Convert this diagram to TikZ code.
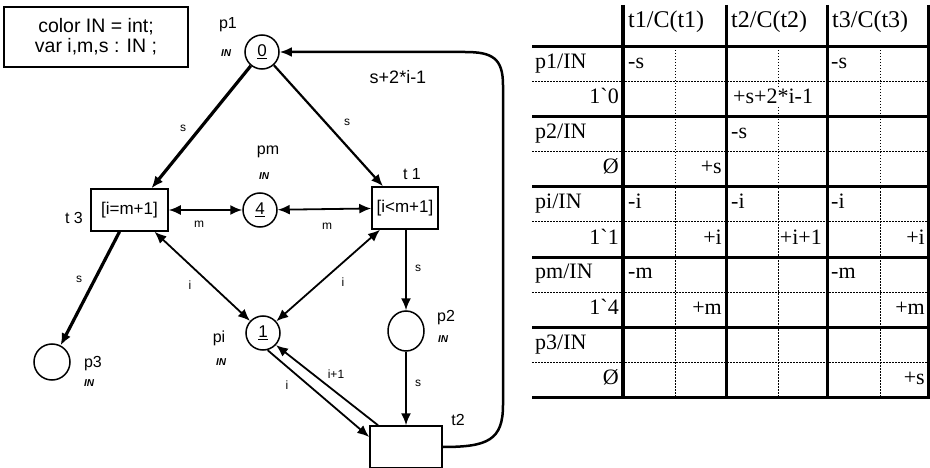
\documentclass[tikz,border=0pt]{standalone}
\usepackage{fontspec}
\setmainfont{Liberation Sans}
\newfontfamily\tabfont{Liberation Serif}[Ligatures=TeXOff]
\usetikzlibrary{arrows.meta,calc,shapes.geometric}
\begin{document}
\begin{tikzpicture}[x=1pt,y=-1pt,
  place/.style={circle,draw,line width=1.5pt,minimum size=34pt,inner sep=0pt,font=\fontsize{17}{17}\selectfont},
  trans/.style={rectangle,draw,line width=1.5pt,minimum height=42pt,inner sep=0pt,font=\fontsize{17}{17}\selectfont},
  tip/.style={-{Latex[length=12pt,width=10pt]}},
  arcln/.style={line width=1.8pt,tip},
  biarc/.style={line width=1.8pt,{Latex[length=12pt,width=10pt]}-{Latex[length=12pt,width=10pt]}},
  lbl/.style={font=\fontsize{16}{16}\selectfont,inner sep=0pt},
  alab/.style={font=\fontsize{12}{12}\selectfont,inner sep=0pt},
  tag/.style={font=\fontsize{10}{10}\selectfont\bfseries\itshape,inner sep=0pt},
  thickln/.style={line width=3pt},
  dotln/.style={line width=1pt,dash pattern=on 1.5pt off 1.5pt},
  tt/.style={font=\tabfont\fontsize{22}{22}\selectfont,inner sep=0pt},
  th/.style={font=\tabfont\fontsize{24}{24}\selectfont,inner sep=0pt,anchor=base west},
  tl/.style={tt,anchor=base west},
  tr/.style={tt,anchor=base east},
]
\useasboundingbox[fill=white] (0,0) rectangle (930,468);

% declarations
\node[draw,line width=1.2pt,minimum width=184pt,minimum height=60pt,align=center,
      font=\fontsize{19.5}{20}\selectfont] (decl) at (96,37) {color IN = int;\\var i,m,s : IN ;};

% places
\node[place] (p1) at (262,52) {\underline{0}};
\node[place] (pm) at (260,210) {\underline{4}};
\node[place] (pi) at (263,333) {\underline{1}};
\node[ellipse,draw,line width=1.5pt,minimum width=36pt,minimum height=40pt,inner sep=0pt] (p2) at (406,331) {};
\node[place,minimum size=36pt] (p3) at (52,362) {};

% transitions
\node[trans,minimum width=77pt] (t3) at (129.5,210) {[i=m+1]};
\node[trans,minimum width=66pt] (t1) at (405,208) {[i<m+1]};
\node[trans,minimum width=72pt] (t2) at (406,447) {};

% place / transition labels
\node[lbl] (lp1) at (228,25) {p1};
\node[tag] (tp1) at (226,53) {IN};
\node[lbl] (lpm) at (268,152) {pm};
\node[tag] (tpm) at (264,176) {IN};
\node[lbl] (lpi) at (219,338) {pi};
\node[tag] (tpi) at (221,362) {IN};
\node[lbl] (lp2) at (446,318) {p2};
\node[tag] (tp2) at (443,339) {IN};
\node[lbl] (lp3) at (93,364) {p3};
\node[tag] (tp3) at (89,383) {IN};
\node[lbl] (lt1) at (412,174) {t 1};
\node[lbl] (lt3) at (74,218) {t 3};
\node[lbl] (lt2) at (458,420) {t2};

% arcs
\draw[arcln,line width=3.2pt] (p1) -- ([xshift=22pt]t3.north);
\draw[arcln,line width=2.2pt] (p1) -- ([xshift=-22pt]t1.north);
\draw[biarc] (t3) -- (pm);
\draw[biarc] (pm) -- (t1);
\draw[arcln,line width=3.2pt] ([xshift=-10pt]t3.south) -- (p3);
\draw[biarc] ([xshift=25pt]t3.south) -- (pi);
\draw[biarc] ([xshift=-25pt]t1.south) -- (pi);
\draw[arcln] (t1.south -| p2) -- (p2);
\draw[arcln] (p2) -- (t2.north -| p2);
\draw[arcln] (pi.-75) -- ([yshift=10pt]t2.west);
\draw[arcln] ([xshift=-28pt]t2.north) -- (pi.-43);
\draw[arcln,line width=2.5pt] (t2.east) .. controls (488,447) and (503,440) .. (503,405)
   -- (503,85) .. controls (503,58) and (492,52) .. (465,52) -- (p1);

% arc labels
\node[alab] (a1) at (183,128) {s};
\node[alab] (a2) at (347,122) {s};
\node[font=\fontsize{18}{18}\selectfont,inner sep=0pt] (a3) at (398,77) {s+2*i-1};
\node[alab] (a4) at (199,224) {m};
\node[alab] (a5) at (327,226) {m};
\node[alab] (a6) at (79,279) {s};
\node[alab] (a7) at (190,285) {i};
\node[alab] (a8) at (343,282) {i};
\node[alab] (a9) at (418,268) {s};
\node[alab] (a10) at (418,383) {s};
\node[alab] (a11) at (287,385) {i};
\node[alab] (a12) at (336,374) {i+1};

% ---------- table ----------
\foreach \yy in {82,152,222,292,362} \draw[dotln] (532,\yy) -- (929,\yy);
\foreach \xx in {675,778,880} \draw[dotln] (\xx,47) -- (\xx,397);
\foreach \yy in {47,117,187,257,327,397} \draw[thickln] (532,\yy) -- (930,\yy);
\draw[line width=3.8pt] (623,5) -- (623,398);
\foreach \xx in {726,827,928.5} \draw[thickln] (\xx,5) -- (\xx,398);

\node[th] (h1) at (628,28) {t1/C(t1)};
\node[th] (h2) at (731,28) {t2/C(t2)};
\node[th] (h3) at (832,28) {t3/C(t3)};

\node[tl] (r1) at (535,69) {p1/IN};
\node[tr] (m1) at (619,104) {1`0};
\node[tl] (r2) at (535,139) {p2/IN};
\node[tr] (m2) at (619,174) {Ø};
\node[tl] (r3) at (535,209) {pi/IN};
\node[tr] (m3) at (619,244) {1`1};
\node[tl] (r4) at (535,279) {pm/IN};
\node[tr] (m4) at (619,314) {1`4};
\node[tl] (r5) at (535,349) {p3/IN};
\node[tr] (m5) at (619,384) {Ø};

% p1
\node[tl] (c11) at (628,69) {-s};
\node[tl,fill=white,inner sep=1pt] (c12) at (732,104) {+s+2*i-1};
\node[tl] (c13) at (831,69) {-s};
% p2
\node[tl] (c22) at (731,139) {-s};
\node[tr] (c21) at (722,174) {+s};
% pi
\node[tl] (c31a) at (628,209) {-i};
\node[tr] (c31b) at (722,244) {+i};
\node[tl] (c32a) at (731,209) {-i};
\node[tr,fill=white,inner sep=1pt] (c32b) at (823,244) {+i+1};
\node[tl] (c33a) at (831,209) {-i};
\node[tr] (c33b) at (925,244) {+i};
% pm
\node[tl] (c41a) at (628,279) {-m};
\node[tr] (c41b) at (722,314) {+m};
\node[tl] (c43a) at (831,279) {-m};
\node[tr] (c43b) at (925,314) {+m};
% p3
\node[tr] (c53) at (925,384) {+s};
\end{tikzpicture}
\end{document}
